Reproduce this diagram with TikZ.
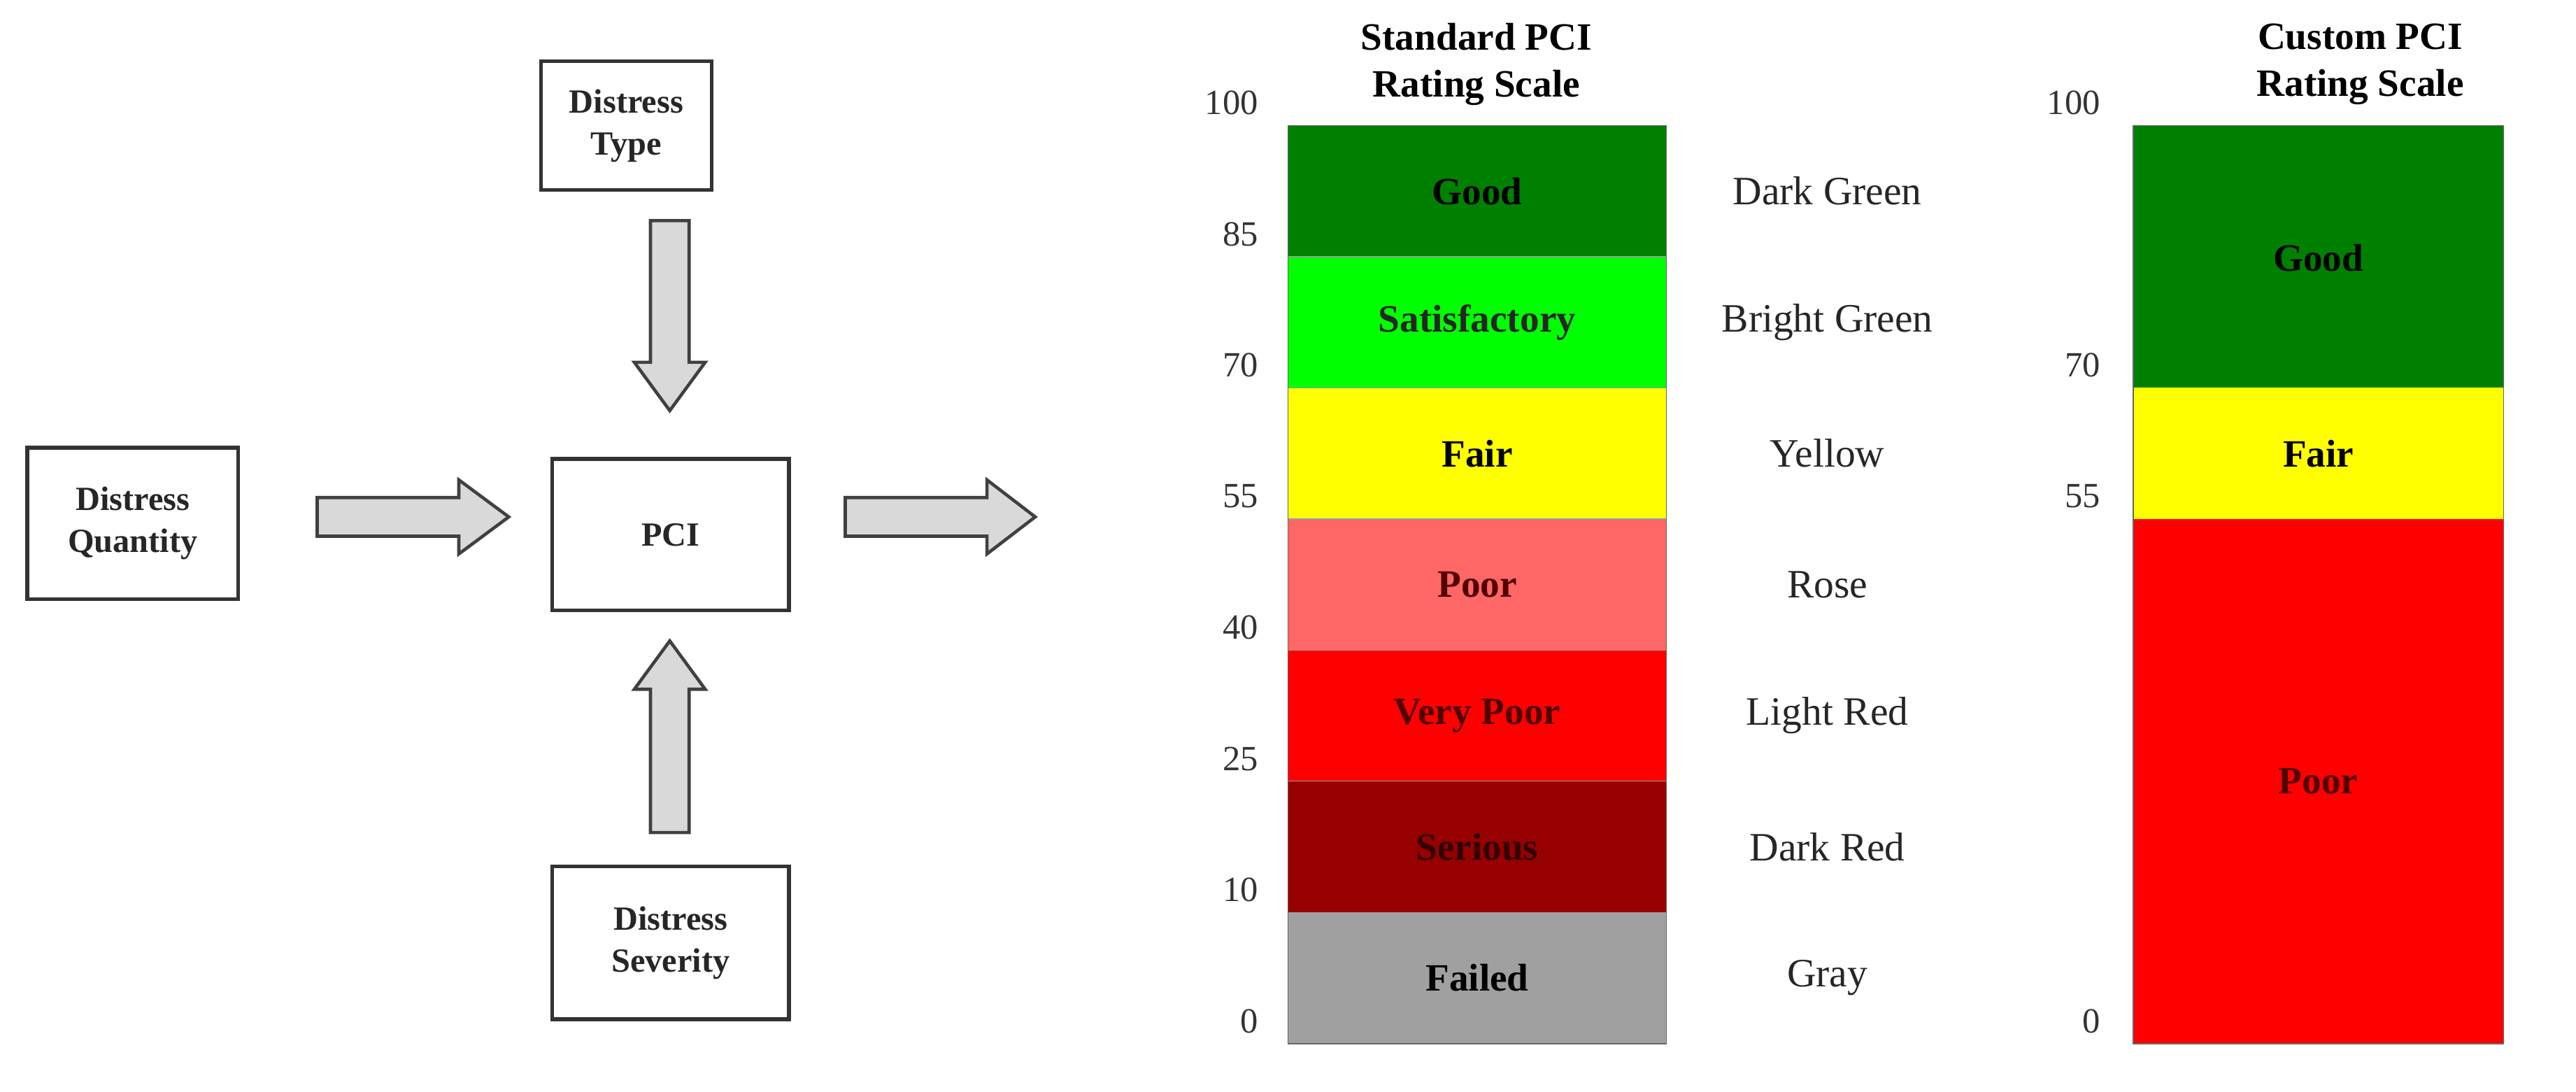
\documentclass[tikz,border=0pt]{standalone}
\usepackage{fontspec}
\setmainfont{Liberation Serif}
\definecolor{cDG}{RGB}{0,128,0}
\definecolor{cBG}{RGB}{0,255,0}
\definecolor{cY}{RGB}{255,255,0}
\definecolor{cRo}{RGB}{255,102,102}
\definecolor{cLR}{RGB}{255,0,0}
\definecolor{cDR}{RGB}{150,0,0}
\definecolor{cGr}{RGB}{160,160,160}
\definecolor{cTxR}{RGB}{80,0,0}
\begin{document}
\begin{tikzpicture}[x=1pt,y=-1pt,
 box/.style={draw=black!80,line width=2.4pt,fill=white,align=center,font=\fontsize{21}{26}\selectfont\bfseries,text=black!85,inner sep=0pt},
 arr/.style={draw=black!75,line width=2pt,fill=black!15,line join=miter},
 tick/.style={anchor=east,font=\fontsize{22}{26}\selectfont,text=black!80},
 cname/.style={font=\fontsize{25}{30}\selectfont,text=black!85},
 blab/.style={font=\fontsize{24}{28}\selectfont\bfseries},
 ttl/.style={align=center,font=\fontsize{24}{29}\selectfont\bfseries}]
\useasboundingbox (0,0) rectangle (1600,678);
% flow boxes
\node[box,minimum width=106pt,minimum height=80pt] (type) at (389,78) {Distress\\Type};
\node[box,minimum width=131pt,minimum height=94pt] (qty) at (82.5,325) {Distress\\Quantity};
\node[box,minimum width=147pt,minimum height=94pt] (pci) at (416.5,332) {PCI};
\node[box,minimum width=147pt,minimum height=95pt] (sev) at (416.5,585.5) {Distress\\Severity};
% arrows
\draw[arr] (404,137) -- (428,137) -- (428,225) -- (438,225) -- (416,255) -- (394,225) -- (404,225) -- cycle;
\draw[arr] (404,517) -- (428,517) -- (428,428) -- (438,428) -- (416,398) -- (394,428) -- (404,428) -- cycle;
\draw[arr] (197,309) -- (285,309) -- (285,298) -- (316,321) -- (285,344) -- (285,333) -- (197,333) -- cycle;
\draw[arr] (525,309) -- (613,309) -- (613,298) -- (643,321) -- (613,344) -- (613,333) -- (525,333) -- cycle;
% standard scale
\node[ttl] (t1) at (917,40) {Standard PCI\\Rating Scale};
\def\bh{81.43}
\foreach \c/\lab/\tc/\nm [count=\i from 0] in {
 cDG/Good/black/Dark Green,
 cBG/Satisfactory/black!85/Bright Green,
 cY/Fair/black/Yellow,
 cRo/Poor/cTxR/Rose,
 cLR/Very Poor/cTxR/Light Red,
 cDR/Serious/black!80!red/Dark Red,
 cGr/Failed/black/Gray}{
 \fill[\c] (800,78+\i*\bh) rectangle (1035,78+\i*\bh+\bh);
 \node[blab,text=\tc] (b\i) at (917.5,78+\i*\bh+\bh/2) {\lab};
 \node[cname] (n\i) at (1135,78+\i*\bh+\bh/2) {\nm};
}
\draw[black!60,line width=0.8pt] (800,78) rectangle (1035,648);
\foreach \i in {1,...,6} \draw[black!40,line width=0.6pt] (800,78+\i*\bh) -- (1035,78+\i*\bh);
\foreach \v [count=\i from 0] in {100,85,70,55,40,25,10,0}
 \node[tick] (s\i) at (785,64+\i*\bh) {\v};
% custom scale
\node[ttl] (t2) at (1466,40) {Custom PCI\\Rating Scale};
\fill[cDG] (1325,78) rectangle (1555,78+2*\bh);
\fill[cY] (1325,78+2*\bh) rectangle (1555,78+3*\bh);
\fill[cLR] (1325,78+3*\bh) rectangle (1555,648);
\draw[black!60,line width=0.8pt] (1325,78) rectangle (1555,648);
\node[blab] (cg) at (1440,160) {Good};
\node[blab] (cf) at (1440,78+2.5*\bh) {Fair};
\node[blab,text=cTxR] (cp) at (1440,485) {Poor};
\node[tick] (c0) at (1308,64) {100};
\node[tick] (c1) at (1308,64+2*\bh) {70};
\node[tick] (c2) at (1308,64+3*\bh) {55};
\node[tick] (c3) at (1308,64+7*\bh) {0};
\end{tikzpicture}
\end{document}
